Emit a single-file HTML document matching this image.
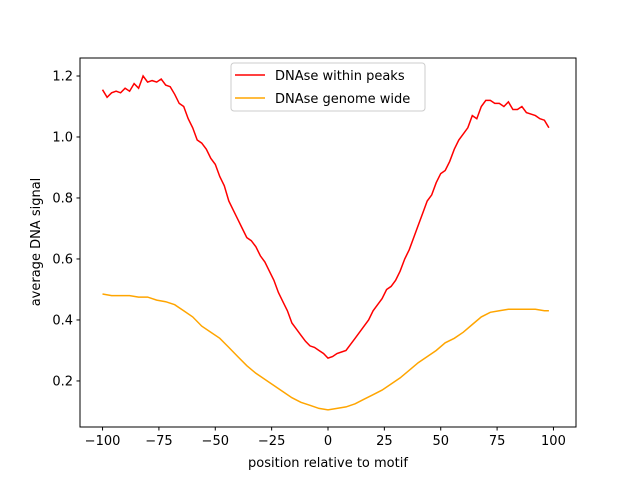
<!DOCTYPE html>
<html><head><meta charset="utf-8"><style>
body{margin:0;background:#fff}
svg text{font-family:"DejaVu Sans","Liberation Sans",sans-serif;font-size:13px;fill:#000}
</style></head><body>
<svg id="chart" width="640" height="480" xmlns="http://www.w3.org/2000/svg">
<rect width="640" height="480" fill="#fff"/>
<g id="plot"></g>
<rect x="80" y="58" width="496" height="369" fill="none" stroke="#000" stroke-width="1"/>
<g id="ticks"></g>
<text x="328" y="467" text-anchor="middle">position relative to motif</text>
<text transform="translate(40,242) rotate(-90)" text-anchor="middle">average DNA signal</text>
<g>
<rect x="231" y="63" width="194" height="48" rx="3" fill="#fff" fill-opacity="0.8" stroke="#ccc"/>
<line x1="235" y1="75" x2="265" y2="75" stroke="red" stroke-width="1.5"/>
<text x="275" y="80">DNAse within peaks</text>
<line x1="235" y1="98" x2="265" y2="98" stroke="orange" stroke-width="1.5"/>
<text x="275" y="103">DNAse genome wide</text>
</g>
</svg>
<script>
const redX=[-100,-98,-96,-94,-92,-90,-88,-86,-84,-82,-80,-78,-76,-74,-72,-70,-68,-66,-64,-62,-60,-58,-56,-54,-52,-50,-48,-46,-44,-42,-40,-38,-36,-34,-32,-30,-28,-26,-24,-22,-20,-18,-16,-14,-12,-10,-8,-6,-4,-2,0,2,4,6,8,10,12,14,16,18,20,22,24,26,28,30,32,34,36,38,40,42,44,46,48,50,52,54,56,58,60,62,64,66,68,70,72,74,76,78,80,82,84,86,88,90,92,94,96,98];
const redY=[1.155,1.13,1.145,1.15,1.145,1.16,1.15,1.175,1.16,1.2,1.18,1.185,1.18,1.19,1.17,1.165,1.14,1.11,1.1,1.06,1.03,0.99,0.98,0.96,0.93,0.91,0.87,0.84,0.79,0.76,0.73,0.7,0.67,0.66,0.64,0.61,0.59,0.56,0.53,0.49,0.46,0.43,0.39,0.37,0.35,0.33,0.315,0.31,0.3,0.29,0.275,0.28,0.29,0.295,0.3,0.32,0.34,0.36,0.38,0.4,0.43,0.45,0.47,0.5,0.51,0.53,0.56,0.6,0.63,0.67,0.71,0.75,0.79,0.81,0.85,0.88,0.89,0.92,0.96,0.99,1.01,1.03,1.07,1.06,1.1,1.12,1.12,1.11,1.11,1.1,1.115,1.09,1.09,1.1,1.08,1.075,1.07,1.06,1.055,1.03];
const orangeX=[-100,-96,-92,-88,-84,-80,-76,-72,-68,-64,-60,-56,-52,-48,-44,-40,-36,-32,-28,-24,-20,-16,-12,-8,-4,0,4,8,12,16,20,24,28,32,36,40,44,48,52,56,60,64,68,72,76,80,84,88,92,96,98];
const orangeY=[0.485,0.48,0.48,0.48,0.475,0.475,0.465,0.46,0.45,0.43,0.41,0.38,0.36,0.34,0.31,0.28,0.25,0.225,0.205,0.185,0.165,0.145,0.13,0.12,0.11,0.105,0.11,0.115,0.125,0.14,0.155,0.17,0.19,0.21,0.235,0.26,0.28,0.3,0.325,0.34,0.36,0.385,0.41,0.425,0.43,0.435,0.435,0.435,0.435,0.43,0.43];
const xTicks=[-100,-75,-50,-25,0,25,50,75,100];
const yTicks=[0.2,0.4,0.6,0.8,1.0,1.2];
const yTickLabels=["0.2","0.4","0.6","0.8","1.0","1.2"];
const NS="http://www.w3.org/2000/svg";
function sx(v){return 80+(v+110)/220*496;}
function sy(v){return 427-(v-0.049)/(1.259-0.049)*369;}
const plot=document.getElementById('plot'),ticks=document.getElementById('ticks');
function line(xs,ys,color,name){
  const p=document.createElementNS(NS,'polyline');
  
  
  p.setAttribute('points',xs.map((x,i)=>sx(x).toFixed(1)+','+sy(ys[i]).toFixed(1)).join(' '));
  p.setAttribute('fill','none');p.setAttribute('stroke',color);p.setAttribute('stroke-width','1.5');
  plot.appendChild(p);
}
line(orangeX,orangeY,'orange','genome-wide-line');
line(redX,redY,'red','within-peaks-line');
xTicks.forEach(t=>{
  const l=document.createElementNS(NS,'line');
  
  
  l.setAttribute('x1',sx(t));l.setAttribute('x2',sx(t));l.setAttribute('y1',427);l.setAttribute('y2',430.5);l.setAttribute('stroke','#000');
  ticks.appendChild(l);
  const tx=document.createElementNS(NS,'text');
  
  
  tx.setAttribute('x',sx(t));tx.setAttribute('y',445);tx.setAttribute('text-anchor','middle');
  tx.textContent=(t<0?'\u2212'+(-t):t);
  ticks.appendChild(tx);
});
yTicks.forEach((t,i)=>{
  const l=document.createElementNS(NS,'line');
  
  
  l.setAttribute('x1',76.5);l.setAttribute('x2',80);l.setAttribute('y1',sy(t));l.setAttribute('y2',sy(t));l.setAttribute('stroke','#000');
  ticks.appendChild(l);
  const tx=document.createElementNS(NS,'text');
  
  
  tx.setAttribute('x',73);tx.setAttribute('y',sy(t)+4.5);tx.setAttribute('text-anchor','end');
  tx.textContent=yTickLabels[i];
  ticks.appendChild(tx);
});
</script>
</body></html>
